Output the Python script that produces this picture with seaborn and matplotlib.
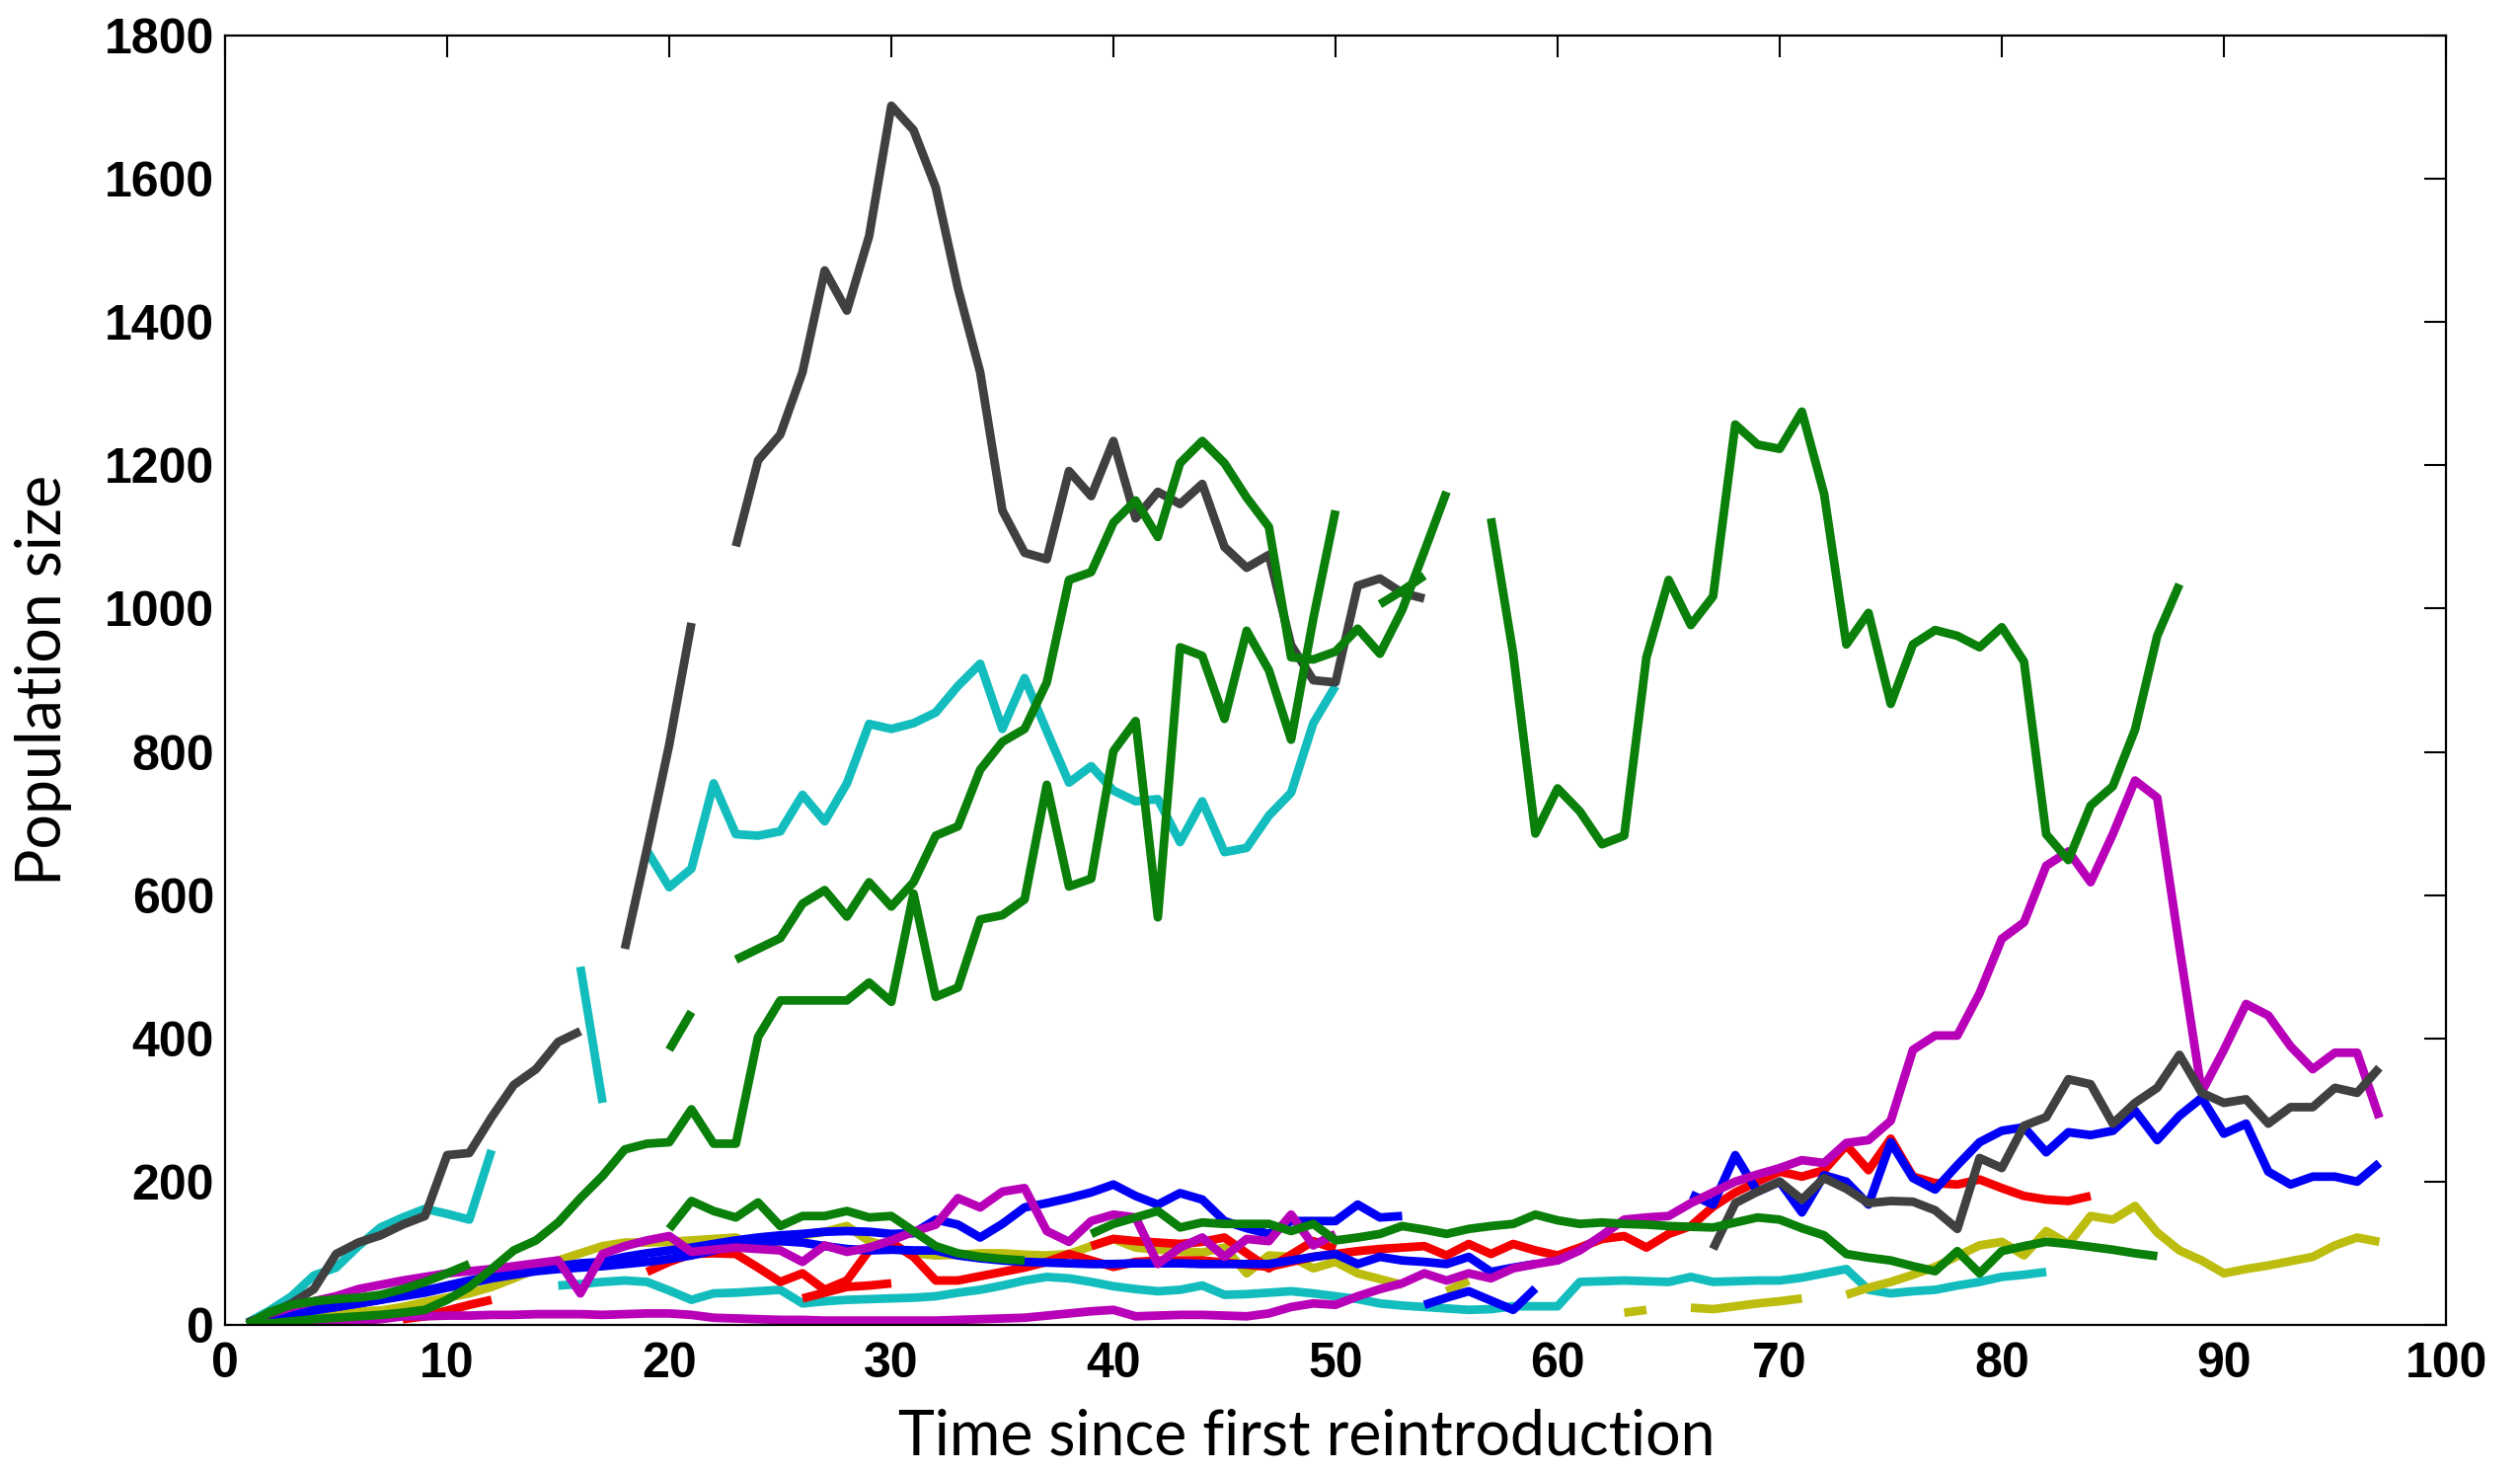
import numpy as np
import pandas as pd
import matplotlib
matplotlib.use("Agg")
import matplotlib.pyplot as plt
import seaborn as sns

nan = np.nan

# ---- population trajectories (value per time step; nan = no census) ----
gray_a_start = 1
gray_a = [3, 15, 30, 50, 99, 115, 125, 140, 152, 237, 240, 290, 335, 357, 395, 410, nan,
          525, 665, 810, 980, nan, 1087, 1207, 1243, 1330, 1472, 1416, 1520, 1702, 1668,
          1588, 1447, 1330, 1137, 1078, 1069, 1192, 1157, 1234, 1126, 1163, 1146, 1174,
          1086, 1057, 1075, 949, 900, 897, 1032, 1042, 1022, 1014]

gray_b_start = 67
gray_b = [106, 170, 186, 200, 175, 205, 190, 170, 173, 172, 160, 134, 233, 219, 278, 290,
          343, 336, 281, 310, 331, 377, 324, 310, 315, 281, 304, 304, 331, 324, 359]

cyan_a_start = 1
cyan_a = [3, 20, 40, 69, 80, 110, 136, 150, 162, 155, 147, 244, nan, nan, nan, 500, 310, nan,
          662, 611, 637, 756, 685, 683, 689, 740, 703, 756, 839, 832, 840, 855, 892, 923,
          832, 903, 829, 757, 780, 746, 731, 734, 674, 731, 660, 666, 711, 743, 840, 892]

cyan_b_start = 15
cyan_b = [55, 57, 60, 62, 60, 48, 35, 44, 45, 47, 49, 30, 33, 35, 36, 37, 38, 40, 45, 49,
          55, 62, 67, 65, 60, 54, 50, 47, 49, 55, 42, 43, 45, 47, 44, 40, 36, 30, 27, 25,
          23, 21, 22, 26, 26, 26, 60, 61, 62, 61, 60, 67, 60, 61, 62, 62, 66, 72, 78, 49,
          44, 47, 49, 55, 60, 67, 70, 74]

green_a_start = 20
green_a = [384, 437, nan, 510, 525, 540, 588, 607, 570, 618, 584, 618, 683, 696, 775, 814,
           832, 897, 1040, 1051, 1120, 1151, 1100, 1203, 1234, 1203, 1155, 1114, 932, 929,
           940, 972, 937, 998, 1080, 1163, nan, 1126, 937, 686, 749, 717, 671, 683, 932,
           1040, 977, 1017, 1257, 1229, 1223, 1275, 1160, 950, 994, 867, 950, 970, 962, 946,
           974, 926, 685, 649, 725, 752, 831, 962, 1034]

green_b_start = 1
green_b = [0, 2, 5, 8, 10, 12, 14, 17, 21, 35, 53, 78, 104, 118, 143, 177, 208, 245, 253,
           255, 301, 253, 253, 402, 453, 453, 453, 453, 478, 451, 602, 458, 471, 566, 572,
           594, 754, 612, 623, 801, 843, 569, 946, 934, 846, 969, 914, 817, 986, 1137, nan,
           1006, 1025, 1046]

green_c_start = 20
green_c = [134, 173, 159, 150, 171, 138, 152, 152, 159, 150, 152, 131, 110, 100, 95, 92, 90]

green_d_start = 39
green_d = [127, 141, 150, 159, 136, 143, 141, 141, 141, 131, 141, 118, 122, 127, 138, 133,
           127, 134, 138, 141, 154, 146, 141, 143, 141, 140, 138, 137, 136, 143, 150, 147,
           135, 125, 99, 94, 90, 82, 75, 103, 72, 103, 110, 116, 113, 109, 105, 100, 96]

green_e_start = 1
green_e = [0, 18, 28, 33, 36, 38, 42, 50, 60, 72, 85]

blue_a_start = 1
blue_a = [2, 10, 18, 22, 25, 30, 35, 42, 48, 55, 62, 68, 72, 78, 82, 86, 88, 95, 100, 104,
          108, 113, 118, 122, 125, 127, 130, 131, 130, 127, 128, 147, 140, 122, 141, 164,
          170, 177, 185, 196, 180, 168, 184, 175, 145, 135, 127, 145, 145, 145, 168, 150, 152]

blue_b_start = 1
blue_b = [1, 8, 14, 20, 25, 30, 35, 40, 45, 52, 58, 65, 70, 75, 78, 80, 82, 85, 88, 92, 97,
          104, 112, 115, 117, 115, 110, 106, 104, 105, 104, 104, 97, 93, 90, 88, 87, 86, 85,
          85, 86, 86, 86, 85, 85, 85, 85, 90, 95, 99, 85, 95, 90, 88, 85, 95, 74, 80, 85]

blue_c_start = 66
blue_c = [182, 168, 237, 186, 200, 157, 209, 200, 168, 255, 205, 189, 223, 255, 271, 276,
          241, 269, 265, 271, 299, 258, 292, 317, 267, 281, 214, 196, 207, 207, 200, 226]

blue_d_start = 54
blue_d = [28, 38, 47, 34, 21, 51]

red_a_start = 19
red_a = [74, 88, 99, 100, 99, 80, 60, 72, 49, 62, 104, 115, 95, 62, 62, 68, 74, 80, 88, 99,
         90, 81, 88, 90, 90, 90, 87, 84, 81, 88, 95, 99, 103, 106, 108, 110, 97, 113, 99,
         113, 104, 97, 108, 120, 124, 108, 127, 138, 165, 185, 200, 214, 207, 216, 251, 216,
         260, 207, 198, 196, 203, 191, 180, 175, 173, 180]

red_b_start = 26
red_b = [37, 45, 53, 55, 58]

red_c_start = 39
red_c = [110, 120, 117, 115, 113, 116, 122, 100, 79, 98, 117, 106]

red_d_start = 8
red_d = [8, 12, 20, 28, 35]

magenta_a_start = 1
magenta_a = [0, 2, 3, 4, 5, 6, 8, 12, 12, 13, 13, 14, 14, 15, 15, 15, 14, 15, 16, 16, 14,
             10, 9, 8, 7, 7, 6, 6, 6, 6, 6, 6, 7, 8, 9, 10, 13, 16, 19, 21, 12, 13, 14, 14,
             13, 12, 16, 25, 30, 28, 40, 50, 58, 72, 62, 72, 65, 79, 85, 90, 104, 125, 147,
             150, 152, 170, 185, 200, 210, 219, 230, 226, 254, 258, 285, 384, 404, 404, 463,
             539, 562, 641, 661, 618, 685, 760, 736, 527, 325, 384, 448, 432, 389, 357, 380,
             380, 289]

magenta_b_start = 1
magenta_b = [2, 15, 25, 33, 40, 50, 56, 62, 67, 72, 75, 78, 82, 86, 90, 44, 99, 110, 118,
             124, 102, 105, 108, 106, 104, 88, 111, 102, 108, 118, 130, 140, 177, 164, 186,
             191, 131, 116, 145, 154, 150, 85, 108, 122, 95, 120, 117, 154, 111, 127]

yellow_a_start = 1
yellow_a = [0, 5, 15, 19, 19, 19, 20, 25, 32, 38, 44, 53, 65, 78, 90, 100, 110, 115, 115,
            116, 118, 120, 122, 108, 115, 125, 130, 138, 117, 108, 100, 97, 98, 100, 100, 98,
            97, 99, 110, 120, 108, 105, 103, 101, 108, 72, 97, 95, 79, 88, 72, 64, 56]

yellow_b_start = 55
yellow_b = [47, 62]

yellow_c_start = 63
yellow_c = [17, 21, nan, 24, 22, 26, 30, 33, 37, nan, 42, 52, 60, 70, 81, 96, 111, 116, 97,
            131, 113, 152, 147, 166, 129, 104, 90, 72, 78, 83, 89, 95, 111, 122, 116]

x_ticks = [0, 10, 20, 30, 40, 50, 60, 70, 80, 90, 100]
y_ticks = [0, 200, 400, 600, 800, 1000, 1200, 1400, 1600, 1800]
x_label = "Time since first reintroduction"
y_label = "Population size"

GRAY, CYAN, GREEN = "#404040", "#13BDBD", "#0A7F0A"
BLUE, RED, MAGENTA, YELLOW = "#0000F5", "#F50000", "#B800B8", "#BDBD0F"

# drawing order: later entries sit on top
series = [
    (cyan_b_start, cyan_b, CYAN),
    (yellow_a_start, yellow_a, YELLOW),
    (yellow_b_start, yellow_b, YELLOW),
    (yellow_c_start, yellow_c, YELLOW),
    (red_d_start, red_d, RED),
    (red_b_start, red_b, RED),
    (red_c_start, red_c, RED),
    (red_a_start, red_a, RED),
    (blue_b_start, blue_b, BLUE),
    (blue_d_start, blue_d, BLUE),
    (blue_a_start, blue_a, BLUE),
    (blue_c_start, blue_c, BLUE),
    (magenta_b_start, magenta_b, MAGENTA),
    (magenta_a_start, magenta_a, MAGENTA),
    (cyan_a_start, cyan_a, CYAN),
    (gray_b_start, gray_b, GRAY),
    (gray_a_start, gray_a, GRAY),
    (green_e_start, green_e, GREEN),
    (green_c_start, green_c, GREEN),
    (green_d_start, green_d, GREEN),
    (green_b_start, green_b, GREEN),
    (green_a_start, green_a, GREEN),
]


def to_frame(start, values):
    """Long table with one segment id per unbroken run of values."""
    rows, seg, broken = [], 0, True
    for i, v in enumerate(values):
        if np.isnan(v):
            broken = True
            continue
        if broken:
            seg += 1
            broken = False
        rows.append((start + i, v, seg))
    return pd.DataFrame(rows, columns=["time", "size", "segment"])


sns.set_theme(style="white")
plt.rcParams["font.family"] = ["Liberation Sans", "DejaVu Sans"]

W, H = 2553, 1492
fig = plt.figure(figsize=(W / 100, H / 100), dpi=100)
ax = fig.add_axes([228 / W, 1 - 1342 / H, (2478 - 228) / W, (1342 - 36) / H])

for start, vals, color in series:
    df = to_frame(start, vals)
    sns.lineplot(data=df, x="time", y="size", units="segment", estimator=None,
                 sort=False, color=color, linewidth=6.3, legend=False, ax=ax,
                 solid_joinstyle="round", solid_capstyle="butt")

ax.set_xlim(0, 100)
ax.set_ylim(0, 1800)
ax.set_xticks(x_ticks)
ax.set_yticks(y_ticks)
ax.set_xticklabels([str(t) for t in x_ticks], fontsize=36, fontweight="bold")
ax.set_yticklabels([str(t) for t in y_ticks], fontsize=36, fontweight="bold")
ax.tick_params(axis="both", direction="in", length=16, width=1.5, color="black",
               top=True, right=True, labelcolor="black")
ax.tick_params(axis="x", pad=12)
ax.tick_params(axis="y", pad=8)
for sp in ax.spines.values():
    sp.set_color("black")
    sp.set_linewidth(1.6)

label_font = dict(fontsize=45, family=["Lato", "DejaVu Sans"], fontweight="normal",
                  color="black")
ax.set_xlabel(x_label, **label_font)
ax.set_ylabel(y_label, **label_font)
ax.xaxis.set_label_coords(0.487, -0.065)
ax.yaxis.set_label_coords(-0.069, 0.50)

fig.savefig("out.png", dpi=100, facecolor="white")
